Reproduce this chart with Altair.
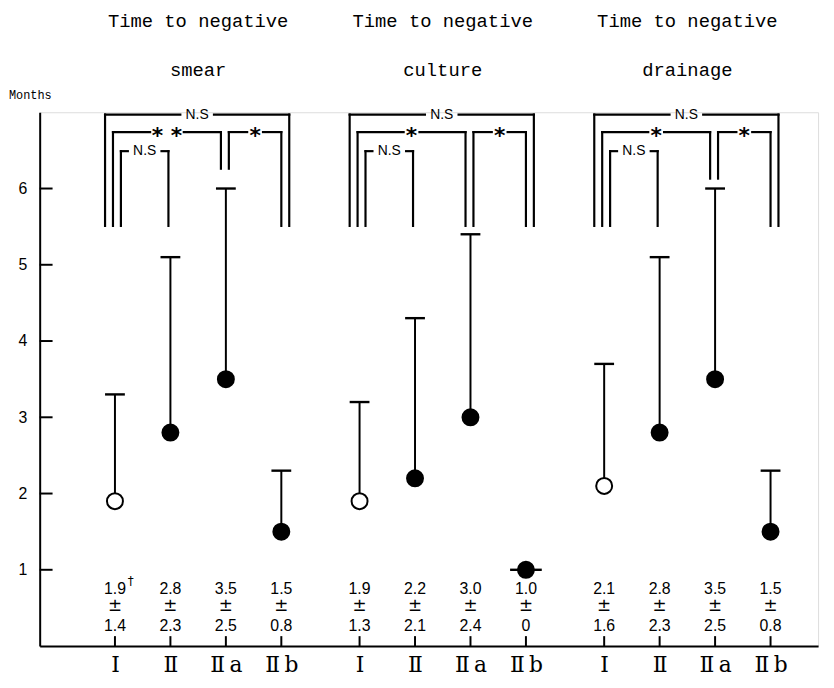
import altair as alt
import pandas as pd

# ---------------- data ----------------
groups = ["smear", "culture", "drainage"]
title_line1 = "Time to negative"
categories = ["I", "II", "IIa", "IIb"]
category_labels = ["Ⅰ", "Ⅱ", "Ⅱ\u2009a", "Ⅱ\u2009b"]

smear_mean = [1.9, 2.8, 3.5, 1.5]
smear_sd = [1.4, 2.3, 2.5, 0.8]
culture_mean = [1.9, 2.2, 3.0, 1.0]
culture_sd = [1.3, 2.1, 2.4, 0.0]
drainage_mean = [2.1, 2.8, 3.5, 1.5]
drainage_sd = [1.6, 2.3, 2.5, 0.8]

smear_notes = ["†", "", "", ""]
culture_notes = ["", "", "", ""]
drainage_notes = ["", "", "", ""]

smear_tests = [("I", "IIb", "N.S"), ("I", "IIa", "* *"), ("IIa", "IIb", "*"), ("I", "II", "N.S")]
culture_tests = [("I", "IIb", "N.S"), ("I", "IIa", "*"), ("IIa", "IIb", "*"), ("I", "II", "N.S")]
drainage_tests = [("I", "IIb", "N.S"), ("I", "IIa", "*"), ("IIa", "IIb", "*"), ("I", "II", "N.S")]

y_ticks = [1, 2, 3, 4, 5, 6]
y_axis_title = "Months"

# ---------------- layout ----------------
W, H = 786, 539
PAD_L, PAD_T, PAD_R, PAD_B = 32, 102, 8, 31


def xpos(g, i):
    return 76 + 56 * i + 247 * g


means = [smear_mean, culture_mean, drainage_mean]
sds = [smear_sd, culture_sd, drainage_sd]
notes = [smear_notes, culture_notes, drainage_notes]
tests = [smear_tests, culture_tests, drainage_tests]

rows = []
for g, grp in enumerate(groups):
    for i, cat in enumerate(categories):
        m, s = means[g][i], sds[g][i]
        p = xpos(g, i)
        half = 10 if s > 0 else 16
        rows.append(dict(group=grp, cat=cat, pos=p, mean=m, sd=s, upper=m + s,
                         capl=p - half, capr=p + half,
                         mean_txt=f"{m:.1f}", pm="±",
                         sd_txt="0" if s == 0 else f"{s:.1f}",
                         note=notes[g][i], open=(cat == "I")))
pts = pd.DataFrame(rows)

# brackets geometry (layout only)
levels = [6.97, 6.74, 6.74, 6.49]
offsets = [(-10, 8), (-2, -5), (3, 0), (6, -2)]
mid_drop = {"smear": 6.26, "culture": 5.51, "drainage": 6.13}
low_drop = 5.51
gaps = {"N.S": 34, "* *": 34, "*": 16}

segs, labs = [], []
for g, grp in enumerate(groups):
    for k, (a, b, lab) in enumerate(tests[g]):
        xl = xpos(g, categories.index(a)) + offsets[k][0]
        xr = xpos(g, categories.index(b)) + offsets[k][1]
        yt = levels[k]
        dl = dr = low_drop
        if k == 1:
            dr = mid_drop[grp]
        if k == 2:
            dl = mid_drop[grp]
        c = (xl + xr) / 2
        gp = gaps[lab] / 2
        segs += [dict(x=xl, x2=c - gp, y=yt, y2=yt),
                 dict(x=c + gp, x2=xr, y=yt, y2=yt),
                 dict(x=xl, x2=xl, y=yt, y2=dl),
                 dict(x=xr, x2=xr, y=yt, y2=dr)]
        labs.append(dict(x=c, y=yt, label=lab, star=(lab != "N.S")))
segs = pd.DataFrame(segs)
labs = pd.DataFrame(labs)

titles = pd.DataFrame([dict(group=grp, line1=title_line1,
                            x=(xpos(g, 0) + xpos(g, 3)) / 2) for g, grp in enumerate(groups)])
yt_df = pd.DataFrame({"v": y_ticks})

tick_pos = [xpos(g, i) for g in range(len(groups)) for i in range(len(categories))]
tick_lab = [category_labels[i] for g in range(len(groups)) for i in range(len(categories))]
label_expr = " : ".join(f"datum.value == {p} ? '{l}'" for p, l in zip(tick_pos, tick_lab)) + " : ''"

xscale = alt.Scale(domain=[0, W], nice=False, zero=False)
yscale = alt.Scale(domain=[0, 7], nice=False, zero=True)
xaxis = alt.Axis(values=tick_pos, labelExpr=label_expr, title=None, grid=False,
                 ticks=False, tickSize=0, domainWidth=2, domainColor="black",
                 labelFont="DejaVu Serif", labelFontSize=22, labelColor="black",
                 labelPadding=9, labelFlush=False, labelOverlap=False)
yaxis = alt.Axis(values=y_ticks, title=None, grid=False, ticks=False, tickSize=0,
                 domainWidth=2, domainColor="black", labelFont="Liberation Sans",
                 labelFontSize=16, labelColor="black", labelPadding=13)


def X(f):
    return alt.X(f, type="quantitative", scale=xscale, axis=xaxis)


def Y(f):
    return alt.Y(f, type="quantitative", scale=yscale, axis=yaxis)


base = alt.Chart(pts)

err = base.transform_filter("datum.sd > 0").mark_rule(color="black", strokeWidth=2).encode(
    x=X("pos"), y=Y("mean"), y2="upper")
caps = base.mark_rule(color="black", strokeWidth=2.4).encode(
    x=X("capl"), x2="capr", y=Y("upper"))
dots = base.mark_point(shape="circle", filled=True, size=260, stroke="black", strokeWidth=2, opacity=1).encode(
    x=X("pos"), y=Y("mean"),
    fill=alt.condition("datum.open", alt.value("white"), alt.value("black")))

txt_style = dict(font="Liberation Sans", fontSize=16, color="black", align="center", baseline="middle")
t_mean = base.mark_text(**txt_style).encode(x=X("pos"), y=alt.value(481), text="mean_txt:N")
t_pm = base.mark_text(font="DejaVu Sans", fontSize=17, color="black", align="center",
                      baseline="middle").encode(x=X("pos"), y=alt.value(499), text="pm:N")
t_sd = base.mark_text(**txt_style).encode(x=X("pos"), y=alt.value(519), text="sd_txt:N")
t_note = base.mark_text(font="DejaVu Sans", fontSize=12, color="black", align="left",
                        baseline="middle", dx=13).encode(x=X("pos"), y=alt.value(473), text="note:N")

br = alt.Chart(segs).mark_rule(color="black", strokeWidth=2.2, strokeCap="square").encode(
    x=X("x"), x2="x2", y=Y("y"), y2="y2")
br_ns = alt.Chart(labs).transform_filter("!datum.star").mark_text(
    font="Liberation Sans", fontSize=14, color="black", align="center", baseline="middle").encode(
    x=X("x"), y=Y("y"), text="label:N")
br_star = alt.Chart(labs).transform_filter("datum.star").mark_text(
    font="DejaVu Sans", fontSize=22, fontWeight="bold", color="black", align="center",
    baseline="middle", dy=4).encode(
    x=X("x"), y=Y("y"), text="label:N")

ti1 = alt.Chart(titles).mark_text(font="Liberation Mono", fontSize=19, color="black",
                                  align="center", baseline="alphabetic").encode(
    x=X("x"), y=alt.value(-86), text="line1:N")
ti2 = alt.Chart(titles).mark_text(font="Liberation Mono", fontSize=19, color="black",
                                  align="center", baseline="alphabetic").encode(
    x=X("x"), y=alt.value(-37), text="group:N")

ytk = alt.Chart(yt_df).mark_rule(color="black", strokeWidth=2).encode(
    y=Y("v"), x=alt.value(0), x2=alt.value(13))
xtk = alt.Chart(pd.DataFrame({"p": tick_pos})).mark_rule(color="black", strokeWidth=2).encode(
    x=X("p"), y=alt.value(H), y2=alt.value(H - 10))
months = alt.Chart(pd.DataFrame({"t": [y_axis_title]})).mark_text(
    font="Liberation Mono", fontSize=12, color="black", align="left", baseline="alphabetic").encode(
    x=alt.value(-31), y=alt.value(-13), text="t:N")

chart = alt.layer(err, caps, dots, t_mean, t_pm, t_sd, t_note, br, br_ns, br_star,
                  ti1, ti2, ytk, xtk, months).properties(
    width=W, height=H,
    autosize=alt.AutoSizeParams(type="none"),
    padding={"left": PAD_L, "top": PAD_T, "right": PAD_R, "bottom": PAD_B},
).configure_view(stroke=None).configure(background="white")

chart.save("out.html", embed_options={"renderer": "svg", "actions": False})
